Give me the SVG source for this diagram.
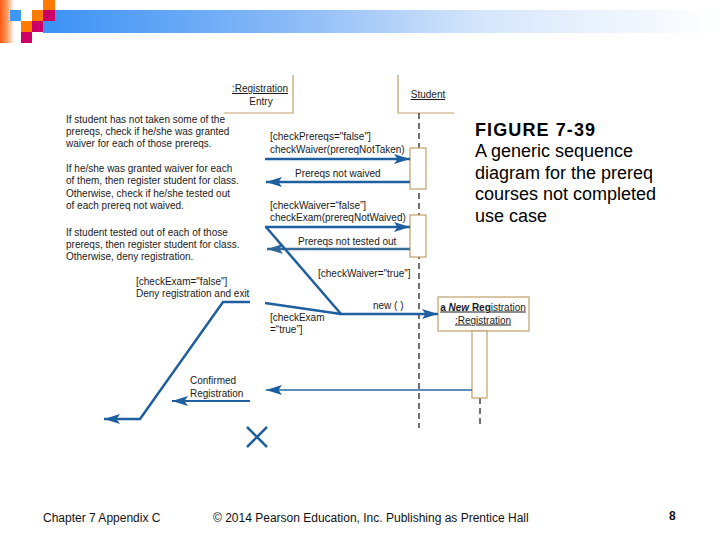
<svg xmlns="http://www.w3.org/2000/svg" width="720" height="540" viewBox="0 0 720 540">
<defs>
<linearGradient id="bar" x1="0" y1="0" x2="1" y2="0">
<stop offset="0" stop-color="#3a92f6"/>
<stop offset="0.35" stop-color="#86b8f7"/>
<stop offset="0.65" stop-color="#d6e6fb"/>
<stop offset="1" stop-color="#ffffff"/>
</linearGradient>
<linearGradient id="strip" x1="0" y1="0" x2="1" y2="0">
<stop offset="0" stop-color="#ff5a14"/>
<stop offset="0.5" stop-color="#ff9a60"/>
<stop offset="1" stop-color="#ffffff"/>
</linearGradient>
<marker id="ah" markerUnits="userSpaceOnUse" markerWidth="16" markerHeight="10" refX="16" refY="5" orient="auto">
<path d="M0,0 L16,5 L0,10 L3.5,5 z" fill="#1f5f9f"/>
</marker>
<marker id="ahg" markerUnits="userSpaceOnUse" markerWidth="16" markerHeight="10" refX="16" refY="5" orient="auto">
<path d="M0,0 L16,5 L0,10 L3.5,5 z" fill="#2f6898"/>
</marker>
</defs>
<style>
.t{font-family:"Liberation Sans",Arial,sans-serif;font-size:10px;fill:#1a1a1a}
.cap{font-family:"Liberation Sans",Arial,sans-serif;font-size:18px;fill:#000}
.ft{font-family:"Liberation Sans",Arial,sans-serif;font-size:12px;fill:#111}
.tan{stroke:#bfa06a;stroke-width:1.2;fill:none}
.bar{stroke:#bfa06a;stroke-width:1.2;fill:#fff}
.msg{stroke:#1f5f9f;stroke-width:2.5;fill:none}
.life{stroke:#111;stroke-width:1.2;stroke-dasharray:6,4;fill:none}
</style>

<g id="header">
<rect x="43" y="10" width="677" height="23" fill="url(#bar)"/>
<rect x="0" y="0" width="14" height="43" fill="url(#strip)"/>
<rect x="10" y="10" width="11" height="11" fill="#3f97f5"/>
<rect x="43" y="0" width="12" height="10" fill="#ff7a00"/>
<rect x="32" y="10" width="11" height="11" fill="#ff7a00"/>
<rect x="43" y="10" width="12" height="11" fill="#cc0066"/>
<rect x="21" y="21" width="11" height="11" fill="#ff7a00"/>
<rect x="32" y="21" width="11" height="11" fill="#cc0066"/>
<rect x="21" y="32" width="11" height="11" fill="#cc0066"/>
</g>

<g id="registrationEntry">
<path class="tan" d="M293,75 V113 H224"/>
<text class="t" x="260" y="92" text-anchor="middle" text-decoration="underline">:Registration</text>
<text class="t" x="261" y="105" text-anchor="middle">Entry</text>
</g>

<g id="student">
<path class="tan" d="M398,75 V113 H454"/>
<text class="t" x="428" y="98" text-anchor="middle" text-decoration="underline">Student</text>
<line class="life" x1="419" y1="113" x2="419" y2="428"/>
<rect class="bar" x="410" y="148" width="16" height="41"/>
<rect class="bar" x="410" y="215" width="16" height="42"/>
</g>

<g id="newRegistration">
<line class="life" x1="480" y1="398" x2="480" y2="428"/>
<rect class="bar" x="438" y="297" width="91" height="34"/>
<text class="t" x="483" y="310.5" text-anchor="middle" text-decoration="underline"><tspan font-weight="bold">a <tspan font-style="italic">New</tspan> Reg</tspan>istration</text>
<text class="t" x="483" y="323.5" text-anchor="middle" text-decoration="underline">:Registration</text>
<rect class="bar" x="472" y="331" width="15" height="67"/>
</g>

<g id="notes">
<text class="t" x="66" y="122.5">If student has not taken some of the</text>
<text class="t" x="66" y="134.8">prereqs, check if he/she was granted</text>
<text class="t" x="66" y="147">waiver for each of those prereqs.</text>
<text class="t" x="66" y="171.5">If he/she was granted waiver for each</text>
<text class="t" x="66" y="184">of them, then register student for class.</text>
<text class="t" x="66" y="196.5">Otherwise, check if he/she tested out</text>
<text class="t" x="66" y="209">of each prereq not waived.</text>
<text class="t" x="66" y="235.5">If student tested out of each of those</text>
<text class="t" x="66" y="247.8">prereqs, then register student for class.</text>
<text class="t" x="66" y="260">Otherwise, deny registration.</text>
</g>

<g id="connectors">
<line class="msg" x1="265" y1="159" x2="410" y2="159" marker-end="url(#ah)"/>
<line class="msg" x1="410" y1="182" x2="266" y2="182" marker-end="url(#ah)"/>
<line class="msg" x1="265" y1="227" x2="410" y2="227" marker-end="url(#ah)"/>
<line class="msg" x1="410" y1="249" x2="267" y2="249" style="stroke:#3a6d96" marker-end="url(#ahg)"/>
<line class="msg" x1="266" y1="227" x2="341" y2="314"/>
<line class="msg" x1="265" y1="303" x2="341" y2="314"/>
<line class="msg" x1="340" y1="314" x2="438" y2="314" marker-end="url(#ah)"/>
<polyline class="msg" points="250,302 223,302 140,419 104,419" marker-end="url(#ah)"/>
<line class="msg" x1="472" y1="390" x2="266" y2="390" style="stroke-width:1.6;stroke:#2a68a6" marker-end="url(#ah)"/>
<line class="msg" x1="250" y1="401" x2="172" y2="401" style="stroke-width:2" marker-end="url(#ah)"/>
<path class="msg" d="M247,427 L267,447 M267,427 L247,447"/>
</g>

<g id="labels">
<text class="t" x="270" y="139.5">[checkPrereqs="false"]</text>
<text class="t" x="270" y="152.5">checkWaiver(prereqNotTaken)</text>
<text class="t" x="295" y="176.5">Prereqs not waived</text>
<text class="t" x="270" y="208.5">[checkWaiver=“false”]</text>
<text class="t" x="270" y="220.5">checkExam(prereqNotWaived)</text>
<text class="t" x="298" y="244.5">Prereqs not tested out</text>
<text class="t" x="318" y="276.5">[checkWaiver="true"]</text>
<text class="t" x="373" y="308.5">new ( )</text>
<text class="t" x="270" y="320.5">[checkExam</text>
<text class="t" x="270" y="332.5">=“true”]</text>
<text class="t" x="136" y="284.5">[checkExam="false"]</text>
<text class="t" x="136" y="296.5">Deny registration and exit</text>
<text class="t" x="190" y="383.5">Confirmed</text>
<text class="t" x="190" y="396.5">Registration</text>
</g>

<g id="caption">
<text class="cap" x="475" y="135.5" font-weight="bold" letter-spacing="1.1">FIGURE 7-39</text>
<text class="cap" x="475" y="157">A generic sequence</text>
<text class="cap" x="475" y="178.5">diagram for the prereq</text>
<text class="cap" x="475" y="200">courses not completed</text>
<text class="cap" x="475" y="221.5">use case</text>
</g>

<g id="footer">
<text class="ft" x="43" y="522">Chapter 7 Appendix C</text>
<text class="ft" x="213" y="522">© 2014 Pearson Education, Inc. Publishing as Prentice Hall</text>
<text class="ft" x="669" y="520" font-weight="bold" font-size="13">8</text>
</g>
</svg>
